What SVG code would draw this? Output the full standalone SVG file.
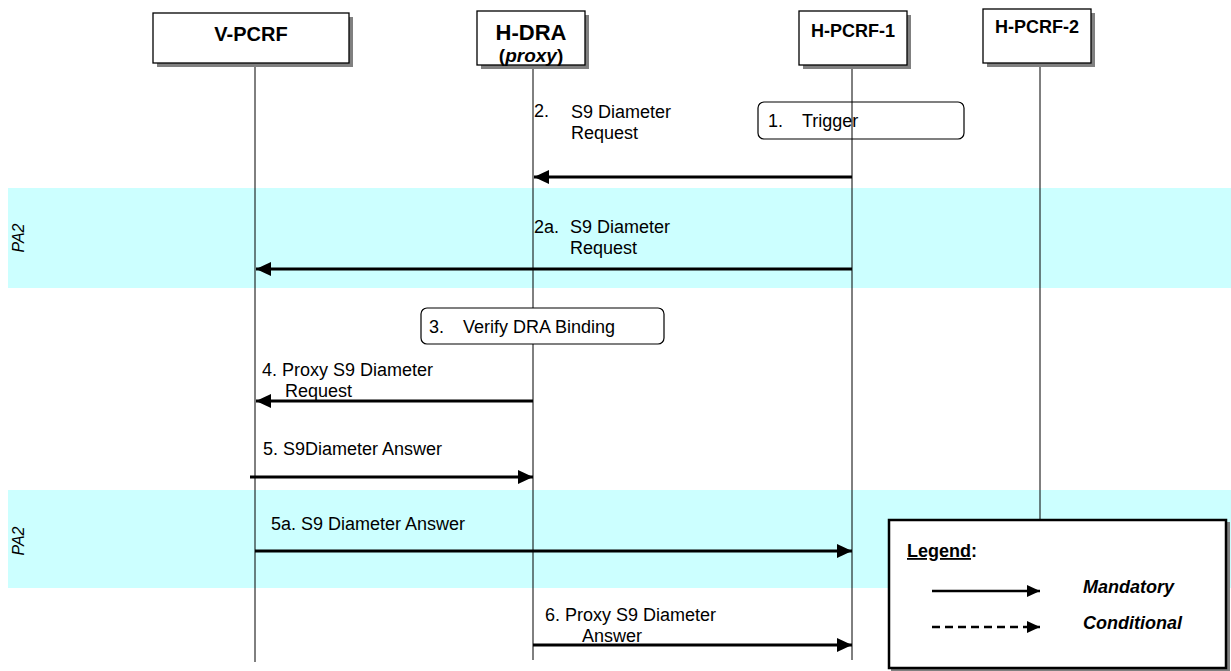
<svg xmlns="http://www.w3.org/2000/svg" width="1231" height="671" viewBox="0 0 1231 671">
<style>
text{font-family:"Liberation Sans",Arial,sans-serif;fill:#000}
.msg{font-size:18px}
.node{font-size:19px;font-weight:bold;text-anchor:middle}
.band{fill:#ccffff}
.pa{font-size:16px;font-style:italic;text-anchor:middle}
.life{stroke:#000;stroke-width:1}
.box{fill:#fff;stroke:#000;stroke-width:1.3}
.shadow{fill:#808080}
.arrow{stroke:#000;stroke-width:3;fill:none}
.step{fill:#fff;stroke:#000;stroke-width:1.2}
.leg{font-size:18px;font-weight:bold;font-style:italic}
</style>
<defs>
<marker id="ah" markerUnits="userSpaceOnUse" markerWidth="16" markerHeight="14" refX="15" refY="7" orient="auto">
<path d="M0,0 L15,7 L0,14 Z" fill="#000"/>
</marker>
<marker id="ahs" markerUnits="userSpaceOnUse" markerWidth="14" markerHeight="14" refX="13" refY="7" orient="auto">
<path d="M0,1 L13,7 L0,13 Z" fill="#000"/>
</marker>
</defs>
<rect width="1231" height="671" fill="#fff"/>
<g id="bands">
<rect class="band" x="8" y="188" width="1223" height="100"/>
<text class="pa" transform="translate(24,238) rotate(-90)">PA2</text>
<rect class="band" x="8" y="490" width="1223" height="98"/>
<text class="pa" transform="translate(24,541) rotate(-90)">PA2</text>
</g>
<g id="lifelines">
<line class="life" x1="255" y1="63" x2="255" y2="662"/>
<line class="life" x1="533" y1="65" x2="533" y2="660"/>
<line class="life" x1="852" y1="65" x2="852" y2="660"/>
<line class="life" x1="1040" y1="63" x2="1040" y2="520"/>
</g>
<g id="V-PCRF">
<rect class="shadow" x="157" y="17" width="196" height="50"/>
<rect class="box" x="153" y="13" width="196" height="50"/>
<text class="node" x="251" y="41" style="font-size:20px">V-PCRF</text>
</g>
<g id="H-DRA">
<rect class="shadow" x="481" y="15" width="108" height="54"/>
<rect class="box" x="477" y="11" width="108" height="54"/>
<text class="node" x="531" y="40" style="font-size:22px">H-DRA</text>
<text class="node" x="531" y="62" style="font-size:19px">(<tspan font-style="italic">proxy</tspan>)</text>
</g>
<g id="H-PCRF-1">
<rect class="shadow" x="803" y="15" width="108" height="54"/>
<rect class="box" x="799" y="11" width="108" height="54"/>
<text class="node" x="853" y="37" style="font-size:18px">H-PCRF-1</text>
</g>
<g id="H-PCRF-2">
<rect class="shadow" x="987" y="13" width="108" height="54"/>
<rect class="box" x="983" y="9" width="108" height="54"/>
<text class="node" x="1037" y="33" style="font-size:18px">H-PCRF-2</text>
</g>
<g id="step1">
<rect x="758" y="102" width="206" height="37" rx="6" fill="none" stroke="#000" stroke-width="1.2"/>
<text class="msg" x="768" y="127">1.</text>
<text class="msg" x="802" y="127">Trigger</text>
</g>
<g id="step3">
<rect class="step" x="421" y="308" width="243" height="36" rx="6"/>
<text class="msg" x="429" y="333">3.</text>
<text class="msg" x="463" y="333">Verify DRA Binding</text>
</g>
<g id="connectors">
<line class="arrow" x1="852" y1="177" x2="534" y2="177" marker-end="url(#ah)"/>
<line class="arrow" x1="852" y1="269" x2="256" y2="269" marker-end="url(#ah)"/>
<line class="arrow" x1="533" y1="401" x2="256" y2="401" marker-end="url(#ah)"/>
<line class="arrow" x1="250" y1="477" x2="533" y2="477" marker-end="url(#ah)"/>
<line class="arrow" x1="255" y1="551" x2="852" y2="551" marker-end="url(#ah)"/>
<line class="arrow" x1="533" y1="645" x2="852" y2="645" marker-end="url(#ah)"/>
</g>
<g id="labels">
<text class="msg" x="534" y="117">2.</text>
<text class="msg" x="571" y="118">S9 Diameter</text>
<text class="msg" x="571" y="139">Request</text>
<text class="msg" x="534" y="233">2a.</text>
<text class="msg" x="570" y="233">S9 Diameter</text>
<text class="msg" x="570" y="254">Request</text>
<text class="msg" x="262" y="376">4. Proxy S9 Diameter</text>
<text class="msg" x="285" y="397">Request</text>
<text class="msg" x="263" y="455">5. S9Diameter Answer</text>
<text class="msg" x="271" y="530">5a. S9 Diameter Answer</text>
<text class="msg" x="545" y="621">6. Proxy S9 Diameter</text>
<text class="msg" x="582" y="642">Answer</text>
</g>
<g id="legend">
<rect class="shadow" x="891" y="522" width="339" height="149"/>
<rect x="889" y="520" width="337" height="148" fill="#fff" stroke="#000" stroke-width="2.5"/>
<text x="907" y="557" style="font-size:18px;font-weight:bold"><tspan text-decoration="underline">Legend</tspan>:</text>
<line x1="932" y1="591" x2="1040" y2="591" stroke="#000" stroke-width="2.5" marker-end="url(#ahs)"/>
<text class="leg" x="1083" y="593">Mandatory</text>
<line x1="932" y1="627" x2="1040" y2="627" stroke="#000" stroke-width="2.5" stroke-dasharray="8,5" marker-end="url(#ahs)"/>
<text class="leg" x="1083" y="629">Conditional</text>
</g>
</svg>
